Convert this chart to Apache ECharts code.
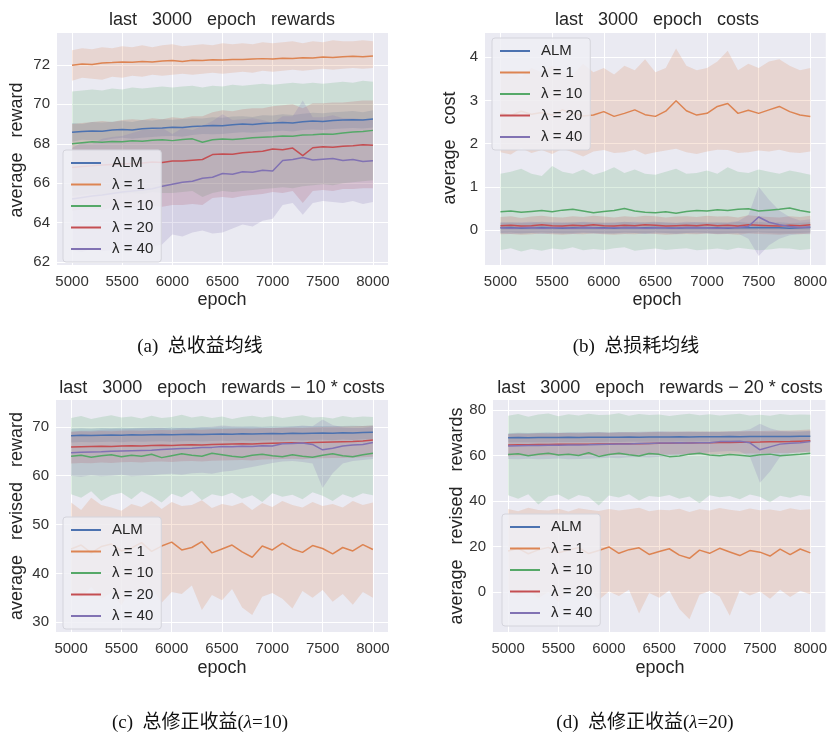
<!DOCTYPE html>
<html><head><meta charset="utf-8">
<script src="https://cdn.jsdelivr.net/npm/echarts@6/dist/echarts.min.js"></script>
<style>html,body{margin:0;padding:0;background:#fff}#c{width:830px;height:735px}</style>
</head><body><div id="c"></div>
<script>
// ---------- data ----------
const epochs = [5000,5100,5200,5300,5400,5500,5600,5700,5800,5900,6000,6100,6200,6300,6400,6500,6600,6700,6800,6900,7000,7100,7200,7300,7400,7500,7600,7700,7800,7900,8000];
const seriesNames = ['ALM','λ = 1','λ = 10','λ = 20','λ = 40'];
const xTicks = [5000,5500,6000,6500,7000,7500,8000];
const yTicksA = [62,64,66,68,70,72];
const yTicksB = [0,1,2,3,4];
const yTicksC = [30,40,50,60,70];
const yTicksD = [0,20,40,60,80];

// (a) rewards
const A_ALM_mean = [68.58,68.62,68.65,68.63,68.70,68.72,68.70,68.76,68.79,68.80,68.84,68.82,68.88,68.90,68.93,68.91,68.97,69.00,68.98,69.03,69.05,69.08,69.06,69.12,69.15,69.13,69.18,69.20,69.22,69.21,69.26];
const A_ALM_hi = [69.05,69.00,69.10,69.08,69.12,69.15,69.10,69.20,69.18,69.25,69.22,69.26,69.30,69.28,69.35,69.32,69.38,69.40,69.36,69.45,69.44,69.50,69.46,69.52,69.58,69.55,69.60,69.62,69.66,69.60,69.70];
const A_ALM_lo = [68.10,68.20,68.18,68.15,68.25,68.30,68.26,68.30,68.35,68.38,68.40,68.36,68.45,68.50,68.48,68.50,68.55,68.58,68.56,68.60,68.64,68.66,68.62,68.70,68.72,68.70,68.75,68.78,68.80,68.78,68.82];
const A_1_mean = [71.98,72.05,72.02,72.10,72.12,72.15,72.13,72.18,72.15,72.20,72.22,72.18,72.24,72.22,72.26,72.25,72.28,72.27,72.30,72.32,72.30,72.34,72.33,72.36,72.35,72.40,72.38,72.42,72.44,72.41,72.45];
const A_1_hi = [72.75,72.85,72.80,72.90,72.85,72.95,72.90,73.00,72.90,73.00,73.05,72.95,73.00,73.05,73.00,73.10,73.05,73.10,73.05,73.15,73.10,73.15,73.20,73.10,73.20,73.15,73.25,73.20,73.20,73.25,73.20];
const A_1_lo = [71.20,71.35,71.30,71.25,71.40,71.35,71.45,71.40,71.50,71.45,71.50,71.55,71.50,71.55,71.60,71.55,71.60,71.65,71.60,71.70,71.65,71.70,71.75,71.70,71.75,71.80,71.75,71.80,71.85,71.80,71.85];
const A_10_mean = [68.00,68.05,68.10,68.08,68.12,68.10,68.15,68.13,68.18,68.20,68.16,68.22,68.25,68.08,68.20,68.24,68.22,68.26,68.30,68.33,68.36,68.40,68.38,68.44,68.46,68.50,68.48,68.55,68.60,68.62,68.68];
const A_10_hi = [70.65,70.70,70.75,70.70,70.80,70.75,70.85,70.80,70.85,70.90,70.85,70.90,70.95,70.85,70.95,70.90,71.00,70.95,71.00,71.05,71.00,71.05,71.10,71.05,71.10,71.05,71.10,71.15,71.10,71.20,71.15];
const A_10_lo = [65.35,65.40,65.45,65.40,65.50,65.45,65.50,65.45,65.55,65.50,65.50,65.55,65.60,65.30,65.50,65.60,65.55,65.60,65.65,65.70,65.75,65.80,65.75,65.85,65.90,65.95,65.90,66.00,66.05,66.10,66.15];
const A_20_mean = [66.80,66.85,66.88,66.92,66.95,66.98,67.00,67.02,67.08,67.05,67.13,67.12,67.16,67.20,67.45,67.48,67.47,67.55,67.58,67.62,67.73,67.70,67.78,67.40,67.80,67.85,67.82,67.88,67.90,67.95,67.93];
const A_20_hi = [69.00,69.05,69.10,69.15,69.10,69.20,69.25,69.20,69.30,69.25,69.35,69.30,69.40,69.40,69.60,69.70,69.65,69.75,69.80,69.80,69.90,69.95,70.00,69.80,70.05,70.05,70.10,70.10,70.15,70.20,70.20];
const A_20_lo = [64.60,64.65,64.70,64.65,64.75,64.80,64.75,64.80,64.85,64.80,64.90,64.90,64.95,64.90,65.25,65.30,65.25,65.35,65.40,65.45,65.55,65.50,65.60,65.00,65.60,65.65,65.60,65.70,65.70,65.75,65.75];
const A_40_mean = [65.20,65.28,65.35,65.40,65.48,65.55,65.60,65.65,65.72,65.85,65.95,66.05,66.10,66.25,66.30,66.49,66.45,66.58,66.55,66.66,66.62,67.15,67.20,67.30,67.18,67.22,67.25,67.15,67.20,67.10,67.14];
const A_40_hi = [67.80,68.05,68.00,68.25,68.35,68.40,68.55,68.70,68.70,68.80,68.50,68.80,68.70,68.90,69.15,69.50,69.20,69.25,69.30,69.20,69.05,69.40,69.40,70.20,69.35,69.35,69.45,69.30,69.30,69.25,69.25];
const A_40_lo = [62.60,62.50,62.70,62.55,62.60,62.70,62.65,62.60,62.75,62.90,63.40,63.30,63.50,63.60,63.45,63.50,63.70,63.90,63.80,64.10,64.20,64.90,65.00,64.40,65.00,65.10,65.05,65.00,65.10,64.95,65.05];

// (b) costs
const B_ALM_mean = [0.05,0.06,0.04,0.05,0.06,0.05,0.04,0.05,0.06,0.05,0.05,0.04,0.06,0.05,0.05,0.06,0.05,0.04,0.05,0.06,0.05,0.05,0.04,0.06,0.05,0.06,0.05,0.05,0.04,0.05,0.06];
const B_ALM_hi = [0.17,0.18,0.16,0.17,0.19,0.17,0.16,0.18,0.18,0.17,0.17,0.16,0.19,0.17,0.18,0.19,0.17,0.16,0.17,0.18,0.17,0.18,0.16,0.19,0.17,0.19,0.17,0.18,0.16,0.17,0.18];
const B_ALM_lo = [-0.07,-0.06,-0.08,-0.07,-0.06,-0.07,-0.08,-0.07,-0.06,-0.07,-0.07,-0.08,-0.06,-0.07,-0.08,-0.06,-0.07,-0.08,-0.07,-0.06,-0.07,-0.08,-0.08,-0.07,-0.07,-0.06,-0.07,-0.08,-0.08,-0.07,-0.06];
const B_1_mean = [2.70,2.65,2.75,2.68,2.72,2.66,2.78,2.70,2.64,2.66,2.74,2.63,2.70,2.78,2.67,2.63,2.75,2.99,2.76,2.66,2.70,2.86,2.93,2.70,2.77,2.70,2.78,2.86,2.74,2.66,2.63];
const B_1_hi = [3.60,3.70,3.55,3.75,3.65,3.80,3.70,3.60,3.85,3.65,3.75,3.60,3.80,3.70,3.95,3.65,3.75,4.20,3.80,3.70,3.75,3.90,4.15,3.70,3.85,3.75,3.90,3.95,3.80,3.70,3.75];
const B_1_lo = [1.80,1.75,1.90,1.78,1.85,1.76,1.88,1.80,1.70,1.82,1.85,1.78,1.80,1.86,1.75,1.80,1.84,1.88,1.80,1.76,1.82,1.86,1.85,1.78,1.80,1.84,1.82,1.86,1.80,1.78,1.82];
const B_10_mean = [0.42,0.44,0.41,0.43,0.45,0.42,0.46,0.48,0.44,0.40,0.43,0.45,0.50,0.44,0.41,0.40,0.42,0.39,0.43,0.45,0.44,0.47,0.45,0.48,0.49,0.44,0.46,0.48,0.51,0.45,0.41];
const B_10_hi = [1.30,1.35,1.42,1.30,1.25,1.48,1.35,1.30,1.40,1.28,1.35,1.45,1.32,1.40,1.30,1.28,1.35,1.42,1.30,1.32,1.38,1.30,1.45,1.35,1.32,1.40,1.35,1.30,1.38,1.33,1.28];
const B_10_lo = [-0.46,-0.42,-0.50,-0.44,-0.48,-0.43,-0.45,-0.40,-0.47,-0.44,-0.46,-0.42,-0.40,-0.48,-0.45,-0.43,-0.46,-0.44,-0.42,-0.47,-0.45,-0.43,-0.46,-0.41,-0.44,-0.47,-0.45,-0.42,-0.43,-0.46,-0.44];
const B_20_mean = [0.10,0.11,0.09,0.10,0.12,0.10,0.09,0.11,0.10,0.12,0.10,0.09,0.11,0.10,0.12,0.11,0.09,0.10,0.11,0.10,0.12,0.10,0.11,0.09,0.12,0.11,0.10,0.09,0.11,0.10,0.12];
const B_20_hi = [0.30,0.32,0.28,0.31,0.33,0.30,0.29,0.32,0.30,0.33,0.31,0.29,0.32,0.30,0.33,0.32,0.29,0.31,0.32,0.30,0.33,0.31,0.32,0.29,0.34,0.32,0.30,0.29,0.32,0.30,0.33];
const B_20_lo = [-0.10,-0.09,-0.11,-0.10,-0.08,-0.10,-0.11,-0.09,-0.10,-0.08,-0.10,-0.11,-0.09,-0.10,-0.08,-0.09,-0.11,-0.10,-0.09,-0.10,-0.08,-0.10,-0.09,-0.11,-0.08,-0.09,-0.10,-0.11,-0.09,-0.10,-0.08];
const B_40_mean = [0.05,0.04,0.05,0.06,0.04,0.05,0.05,0.04,0.06,0.05,0.04,0.05,0.05,0.06,0.04,0.05,0.05,0.04,0.06,0.05,0.05,0.04,0.05,0.06,0.08,0.30,0.18,0.12,0.08,0.06,0.07];
const B_40_hi = [0.18,0.17,0.18,0.19,0.17,0.18,0.18,0.17,0.19,0.18,0.17,0.18,0.18,0.19,0.17,0.18,0.18,0.17,0.19,0.18,0.18,0.17,0.18,0.20,0.35,1.00,0.70,0.45,0.30,0.22,0.25];
const B_40_lo = [-0.08,-0.09,-0.08,-0.07,-0.09,-0.08,-0.08,-0.09,-0.07,-0.08,-0.09,-0.08,-0.08,-0.07,-0.09,-0.08,-0.08,-0.09,-0.07,-0.08,-0.08,-0.09,-0.08,-0.08,-0.20,-0.60,-0.35,-0.20,-0.12,-0.09,-0.10];

// (c) rewards - 10*costs
const C_ALM_mean = [68.2,68.3,68.25,68.3,68.35,68.3,68.4,68.35,68.4,68.45,68.4,68.45,68.5,68.45,68.5,68.55,68.5,68.6,68.55,68.6,68.65,68.6,68.7,68.65,68.7,68.75,68.7,68.8,68.75,68.85,68.9];
const C_ALM_hi = [69.6,69.7,69.6,69.75,69.7,69.8,69.75,69.8,69.85,69.8,69.9,69.85,69.9,69.95,69.9,70.0,69.95,70.0,70.05,70.0,70.1,70.05,70.1,70.15,70.1,70.2,70.15,70.2,70.25,70.2,70.3];
const C_ALM_lo = [66.8,66.9,66.85,66.9,66.95,66.85,67.0,66.95,67.0,67.05,66.95,67.05,67.1,67.0,67.1,67.15,67.05,67.2,67.1,67.2,67.25,67.15,67.3,67.2,67.3,67.35,67.25,67.4,67.3,67.45,67.5];
const C_1_mean = [45.0,45.8,44.2,45.5,46.0,44.6,45.2,46.3,44.5,45.6,46.4,44.8,45.3,46.5,44.2,45.0,45.8,44.4,43.3,45.6,44.8,46.2,45.0,44.3,45.7,45.1,44.0,45.3,44.6,45.9,44.9];
const C_1_hi = [54.5,53.0,55.5,54.0,53.5,52.8,54.2,53.6,54.8,53.2,54.6,53.8,54.0,55.0,53.4,54.2,53.8,54.5,53.0,54.4,53.6,54.8,54.0,53.5,54.6,53.8,54.2,53.5,54.8,54.0,54.5];
const C_1_lo = [36.5,35.0,37.2,34.8,36.0,33.5,36.8,35.5,37.0,34.0,36.2,35.8,37.5,32.5,35.6,34.5,36.8,33.0,31.5,35.2,36.0,34.8,32.8,36.4,35.0,36.6,34.2,35.8,33.6,36.2,35.0];
const C_10_mean = [64.0,64.2,63.8,64.1,64.3,63.9,64.2,64.0,64.4,63.7,64.1,64.5,64.2,64.0,64.6,64.3,64.0,63.8,64.2,64.4,64.1,63.9,64.3,64.0,63.8,64.2,64.5,64.1,63.9,64.3,64.6];
const C_10_hi = [71.8,72.2,71.6,72.0,72.4,71.9,72.1,71.7,72.3,71.8,72.0,72.5,71.9,72.2,71.8,72.1,71.6,72.0,72.3,71.9,72.2,71.8,72.1,72.4,71.9,72.0,71.7,72.2,71.9,72.1,72.0];
const C_10_lo = [56.2,55.5,56.8,54.8,56.0,56.5,55.2,56.8,55.8,54.5,56.3,55.6,56.9,55.0,56.2,55.8,56.5,55.3,56.0,54.6,56.4,55.7,56.1,55.2,56.6,55.9,54.8,56.2,55.5,56.4,56.0];
const C_20_mean = [65.9,65.95,66.0,66.05,66.0,66.1,66.15,66.1,66.2,66.25,66.2,66.3,66.35,66.3,66.4,66.45,66.5,66.55,66.5,66.6,66.65,66.7,66.75,66.7,66.8,66.85,66.9,66.95,67.0,67.1,67.3];
const C_20_hi = [69.0,69.1,69.05,69.15,69.1,69.2,69.25,69.2,69.3,69.35,69.3,69.4,69.45,69.4,69.5,69.55,69.6,69.65,69.6,69.7,69.75,69.8,69.85,69.8,69.9,69.95,70.0,70.05,70.1,70.2,70.3];
const C_20_lo = [62.5,62.6,62.55,62.7,62.6,62.75,62.8,62.7,62.85,62.9,62.8,62.95,63.0,62.9,63.05,63.1,63.15,63.2,63.1,63.3,63.35,63.4,63.45,63.35,63.5,63.55,63.6,63.65,63.7,63.8,63.9];
const C_40_mean = [64.7,64.8,64.85,64.9,65.0,65.05,65.1,65.15,65.2,65.35,65.45,65.55,65.6,65.75,65.8,66.0,65.95,66.05,66.0,66.15,66.1,66.55,66.6,66.7,66.4,65.3,65.6,66.1,66.3,66.4,66.8];
const C_40_hi = [69.0,69.2,69.2,69.4,69.5,69.5,69.6,69.7,69.7,69.8,69.6,69.8,69.7,69.9,70.0,70.3,70.1,70.0,70.0,69.9,69.8,69.9,70.0,70.3,70.1,71.5,70.4,69.9,69.8,69.8,70.1];
const C_40_lo = [60.0,59.8,60.1,59.9,60.0,60.2,59.9,60.0,60.1,60.3,60.4,60.2,60.5,60.6,60.4,60.8,61.0,61.4,61.8,62.2,62.6,62.9,63.0,62.8,62.5,57.5,60.5,62.5,63.0,63.2,63.4];

// (d) rewards - 20*costs
const D_ALM_mean = [67.8,67.9,67.85,67.9,67.95,67.9,68.0,67.95,68.0,68.05,68.0,68.05,68.1,68.05,68.1,68.15,68.1,68.2,68.15,68.2,68.25,68.2,68.3,68.25,68.3,68.35,68.3,68.4,68.35,68.45,68.5];
const D_ALM_hi = [69.8,70.0,69.9,70.0,70.1,69.9,70.1,70.0,70.1,70.2,70.0,70.2,70.2,70.1,70.2,70.3,70.2,70.3,70.3,70.3,70.4,70.3,70.4,70.4,70.5,70.5,70.4,70.6,70.5,70.6,70.7];
const D_ALM_lo = [65.8,65.8,65.8,65.8,65.8,65.9,65.9,65.9,65.9,65.9,66.0,65.9,66.0,66.0,66.0,66.0,66.0,66.1,66.0,66.1,66.1,66.1,66.2,66.1,66.1,66.2,66.2,66.2,66.2,66.3,66.3];
const D_1_mean = [18.0,19.2,16.8,18.5,19.6,17.2,18.4,19.5,16.9,18.2,19.8,17.0,18.6,19.4,16.5,17.8,19.0,16.2,14.8,18.4,17.0,19.2,17.6,16.0,18.2,17.5,15.8,18.8,16.4,18.9,17.2];
const D_1_hi = [36.5,35.5,37.0,36.0,35.8,36.6,35.4,36.8,36.2,35.6,36.5,35.8,36.4,37.0,35.5,36.2,35.9,36.6,35.2,36.4,35.8,36.9,36.1,35.6,36.7,35.9,36.3,35.6,36.8,36.0,36.4];
const D_1_lo = [0.5,-1.5,1.2,-2.8,0.0,-4.5,0.8,-1.0,1.5,-3.5,0.2,-1.8,1.0,-9.5,-0.5,-2.5,0.6,-7.5,-12.0,-1.2,0.4,-2.0,-10.5,0.8,-1.5,0.2,-3.0,1.0,-2.2,0.5,-1.0];
const D_10_mean = [60.4,60.8,59.9,60.5,61.0,60.2,60.6,60.0,61.2,59.6,60.4,61.0,60.3,59.8,60.9,60.5,59.5,59.8,60.6,61.0,60.2,59.9,60.4,60.1,59.7,60.3,60.6,59.9,60.2,60.5,61.0];
const D_10_hi = [77.5,78.2,77.0,78.0,78.5,77.3,78.1,77.6,78.4,77.8,77.9,78.6,77.5,78.2,77.8,78.0,77.4,77.9,78.3,77.7,78.1,77.6,78.0,78.4,77.6,77.9,77.5,78.2,77.8,78.0,77.9];
const D_10_lo = [42.5,41.0,43.0,38.5,42.0,42.8,40.5,42.6,41.8,38.0,42.4,41.5,43.0,40.2,42.2,41.8,42.6,41.0,42.0,39.0,42.5,41.6,42.2,40.8,42.8,41.9,39.5,42.3,41.4,42.6,42.0];
const D_20_mean = [64.6,64.7,64.75,64.8,64.8,64.9,64.95,64.9,65.0,65.1,65.05,65.15,65.2,65.2,65.3,65.35,65.4,65.45,65.5,65.55,65.6,65.7,65.75,65.8,65.85,65.9,66.0,66.05,66.1,66.3,66.5];
const D_20_hi = [69.5,69.7,69.6,69.8,69.7,69.9,69.9,69.8,70.0,70.1,70.0,70.1,70.2,70.1,70.3,70.3,70.4,70.4,70.5,70.5,70.6,70.6,70.7,70.7,70.8,70.8,70.9,71.0,71.0,71.2,71.4];
const D_20_lo = [59.7,59.8,59.9,59.8,59.9,60.0,60.0,60.0,60.1,60.1,60.1,60.2,60.2,60.3,60.3,60.4,60.4,60.5,60.5,60.6,60.6,60.7,60.8,60.8,60.9,60.9,61.0,61.1,61.1,61.3,61.5];
const D_40_mean = [64.2,64.3,64.35,64.4,64.5,64.55,64.6,64.65,64.7,64.85,64.95,65.05,65.1,65.25,65.3,65.5,65.45,65.55,65.5,65.65,65.6,66.1,66.2,66.3,65.6,62.5,63.8,65.0,65.4,65.6,66.1];
const D_40_hi = [69.5,69.7,69.7,69.9,70.0,70.0,70.1,70.2,70.2,70.3,70.1,70.3,70.2,70.4,70.5,70.8,70.6,70.5,70.5,70.4,70.3,70.4,70.5,70.8,71.5,74.0,72.0,70.8,70.6,70.6,70.9];
const D_40_lo = [58.5,58.3,58.6,58.4,58.5,58.7,58.4,58.5,58.6,58.8,59.0,58.8,59.2,59.3,59.1,59.5,59.8,60.2,60.6,61.0,61.4,61.8,62.0,61.8,59.5,48.0,53.0,59.5,61.0,61.4,61.8];

// ---------- styling / layout ----------
const palette = ['#4c72b0','#dd8452','#55a868','#c44e52','#8172b3'];
const SANS = '"Liberation Sans", Arial, sans-serif';
const SERIF = '"Liberation Serif", "Noto Sans CJK SC", serif';
function rgba(hex, a){const n=parseInt(hex.slice(1),16);return 'rgba('+(n>>16)+','+((n>>8)&255)+','+(n&255)+','+a+')';}

const panels = [
  {grid:[57,33,331,232], y:[61.85,73.62], yTicks:yTicksA, legend:[63,150],
   data:[[A_ALM_mean,A_ALM_lo,A_ALM_hi],[A_1_mean,A_1_lo,A_1_hi],[A_10_mean,A_10_lo,A_10_hi],[A_20_mean,A_20_lo,A_20_hi],[A_40_mean,A_40_lo,A_40_hi]]},
  {grid:[485,33,343,232], y:[-0.81,4.56], yTicks:yTicksB, legend:[492,38],
   data:[[B_ALM_mean,B_ALM_lo,B_ALM_hi],[B_1_mean,B_1_lo,B_1_hi],[B_10_mean,B_10_lo,B_10_hi],[B_20_mean,B_20_lo,B_20_hi],[B_40_mean,B_40_lo,B_40_hi]]},
  {grid:[56,400,332,232], y:[28.0,75.5], yTicks:yTicksC, legend:[63,517],
   data:[[C_ALM_mean,C_ALM_lo,C_ALM_hi],[C_1_mean,C_1_lo,C_1_hi],[C_10_mean,C_10_lo,C_10_hi],[C_20_mean,C_20_lo,C_20_hi],[C_40_mean,C_40_lo,C_40_hi]]},
  {grid:[493,400,333,232], y:[-17.6,84.4], yTicks:yTicksD, legend:[502,514],
   data:[[D_ALM_mean,D_ALM_lo,D_ALM_hi],[D_1_mean,D_1_lo,D_1_hi],[D_10_mean,D_10_lo,D_10_hi],[D_20_mean,D_20_lo,D_20_hi],[D_40_mean,D_40_lo,D_40_hi]]}
];

const option = {animation:false, backgroundColor:'#fff', grid:[], xAxis:[], yAxis:[], series:[], legend:[], graphic:[]};
const plain = v => String(v);

panels.forEach((p,k)=>{
  option.grid.push({left:p.grid[0], top:p.grid[1], width:p.grid[2], height:p.grid[3], show:true, backgroundColor:'#eaeaf2', borderWidth:0, containLabel:false});
  option.xAxis.push({type:'value', gridIndex:k, min:4850, max:8150,
    axisLine:{show:false}, axisTick:{show:false, customValues:xTicks},
    axisLabel:{customValues:xTicks, formatter:plain, fontSize:15, color:'#333', margin:9, fontFamily:SANS},
    splitLine:{show:true, lineStyle:{color:'#ffffff', width:1}}});
  option.yAxis.push({type:'value', gridIndex:k, min:p.y[0], max:p.y[1],
    axisLine:{show:false}, axisTick:{show:false, customValues:p.yTicks},
    axisLabel:{customValues:p.yTicks, formatter:plain, fontSize:15, color:'#333', margin:7, fontFamily:SANS},
    splitLine:{show:true, lineStyle:{color:'#ffffff', width:1}}});
  // bands (drawn below all lines)
  p.data.forEach((d,i)=>{
    const lo=d[1], hi=d[2];
    option.series.push({type:'custom', name:'band'+k+'_'+i, xAxisIndex:k, yAxisIndex:k, z:1, silent:true,
      data:epochs.map((x,j)=>[x,lo[j],hi[j]]), encode:{x:0,y:[1,2]},
      renderItem:(params,api)=>{
        if(params.dataIndex!==0) return null;
        const pts=[];
        for(let j=0;j<epochs.length;j++) pts.push(api.coord([epochs[j],hi[j]]));
        for(let j=epochs.length-1;j>=0;j--) pts.push(api.coord([epochs[j],lo[j]]));
        return {type:'polygon', shape:{points:pts}, style:{fill:rgba(palette[i],0.2)}};
      }});
  });
  p.data.forEach((d,i)=>{
    option.series.push({type:'line', name:seriesNames[i], xAxisIndex:k, yAxisIndex:k, z:2,
      data:epochs.map((x,j)=>[x,d[0][j]]), showSymbol:false, symbol:'none',
      lineStyle:{color:palette[i], width:1.5}, itemStyle:{color:palette[i]}, emphasis:{disabled:true}});
  });
  option.legend.push({left:p.legend[0], top:p.legend[1], orient:'vertical', data:seriesNames.map(n=>({name:n, icon:'rect'})),
    itemWidth:30, itemHeight:2, itemGap:5.5, padding:[5,8,5,8], selectedMode:false,
    backgroundColor:'rgba(238,238,244,0.85)', borderColor:'#d4d4dc', borderWidth:1, borderRadius:3,
    textStyle:{fontSize:15, fontFamily:SANS, color:'#262626', lineHeight:16, padding:[0,0,0,6]}});
});

function txt(x,y,text,size,rot){
  return {type:'text', x:x, y:y, rotation:rot||0, silent:true,
    style:{text:text, fontSize:size, fontFamily:SANS, fill:'#262626', align:'center', verticalAlign:'middle', textAlign:'center', textVerticalAlign:'middle'}};
}
option.graphic.push(
  txt(222,20,'last   3000   epoch   rewards',18),
  txt(657,20,'last   3000   epoch   costs',18),
  txt(222,388,'last   3000   epoch   rewards − 10 * costs',18),
  txt(660,388,'last   3000   epoch   rewards − 20 * costs',18),
  txt(222,300,'epoch',18), txt(657,300,'epoch',18), txt(222,668,'epoch',18), txt(660,668,'epoch',18),
  txt(17,150,'average   reward',18,Math.PI/2),
  txt(450,148,'average   cost',18,Math.PI/2),
  txt(17,516,'average   revised   reward',18,Math.PI/2),
  txt(457,516,'average   revised   rewards',18,Math.PI/2)
);
function cap(x,y,text){
  return {type:'text', x:x, y:y, silent:true,
    style:{text:text, fontSize:19, fontFamily:SERIF, fill:'#111', align:'center', verticalAlign:'middle', textAlign:'center', textVerticalAlign:'middle',
      rich:{i:{fontStyle:'italic', fontSize:19, fontFamily:SERIF, fill:'#111'}}}};
}
option.graphic.push(
  cap(200,347,'(a)  总收益均线'),
  cap(636,347,'(b)  总损耗均线'),
  cap(200,723,'(c)  总修正收益({i|λ}=10)'),
  cap(645,723,'(d)  总修正收益({i|λ}=20)')
);

const chart = echarts.init(document.getElementById('c'), null, {renderer:'canvas', width:830, height:735});
chart.setOption(option);
</script>
</body></html>
